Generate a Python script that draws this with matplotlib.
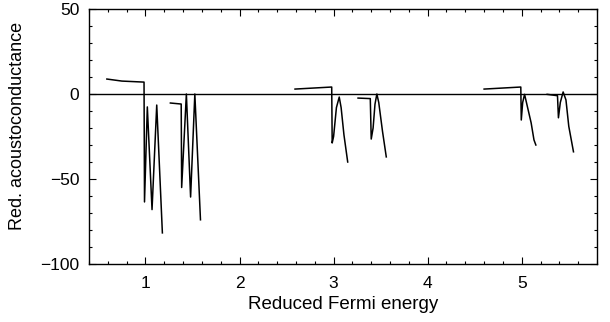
import numpy as np
import matplotlib
matplotlib.use("Agg")
import matplotlib.pyplot as plt
from matplotlib.ticker import MultipleLocator

plt.rcParams['font.family'] = ['Liberation Sans', 'DejaVu Sans']

# Branches of the curve (reduced Fermi energy, reduced acoustoconductance)
seg1_x = [0.59, 0.75, 0.985, 0.99, 1.02, 1.07, 1.12, 1.18]
seg1_y = [8.8, 7.6, 7.0, -63.5, -7.6, -68.0, -6.5, -81.7]

seg2_x = [1.265, 1.38, 1.385, 1.435, 1.48, 1.525, 1.585]
seg2_y = [-5.3, -5.9, -55.0, 0.0, -60.6, 0.0, -74.0]

seg3_x = [2.59, 2.98, 2.985, 3.00, 3.03, 3.06, 3.08, 3.11, 3.15]
seg3_y = [2.9, 4.1, -28.8, -25.0, -8.0, -1.8, -8.0, -24.0, -40.0]

seg4_x = [3.26, 3.39, 3.40, 3.42, 3.44, 3.46, 3.48, 3.52, 3.56]
seg4_y = [-2.4, -2.7, -26.5, -20.0, -6.0, 0.0, -5.0, -22.0, -37.0]

seg5_x = [4.60, 4.99, 4.995, 5.01, 5.03, 5.05, 5.10, 5.13, 5.15]
seg5_y = [2.9, 4.1, -15.3, -5.0, -0.2, -5.0, -17.0, -27.0, -30.0]

seg6_x = [5.27, 5.38, 5.39, 5.41, 5.44, 5.47, 5.50, 5.55]
seg6_y = [-0.2, -1.0, -14.0, -5.0, 1.2, -3.5, -19.0, -34.0]

segments = [(seg1_x, seg1_y), (seg2_x, seg2_y), (seg3_x, seg3_y),
            (seg4_x, seg4_y), (seg5_x, seg5_y), (seg6_x, seg6_y)]

x_ticks = [1, 2, 3, 4, 5]
y_ticks = [-100, -50, 0, 50]

fig = plt.figure(figsize=(6.10, 3.22), dpi=100)
ax = fig.add_axes([89/610, 58/322, 508/610, 255/322])

ax.axhline(0, color='black', lw=1.0)
for sx, sy in segments:
    ax.plot(sx, sy, color='black', lw=1.1)

ax.set_xlim(0.4, 5.8)
ax.set_ylim(-100, 50)
ax.set_xticks(x_ticks)
ax.set_yticks(y_ticks)
ax.xaxis.set_minor_locator(MultipleLocator(0.2))
ax.yaxis.set_minor_locator(MultipleLocator(10))
ax.tick_params(which='both', direction='in', top=True, right=True, width=0.8)
ax.tick_params(which='major', length=5, labelsize=12.5)
ax.tick_params(axis='x', which='major', pad=9)
ax.tick_params(axis='y', which='major', pad=7)
ax.tick_params(which='minor', length=2.5)
for sp in ax.spines.values():
    sp.set_linewidth(1.0)

ax.set_xlabel('Reduced Fermi energy', fontsize=13.5, labelpad=3)
ax.set_ylabel('Red. acoustoconductance', fontsize=13)
ax.yaxis.set_label_coords(-0.124, 0.54)

fig.savefig('out.png', dpi=100)
